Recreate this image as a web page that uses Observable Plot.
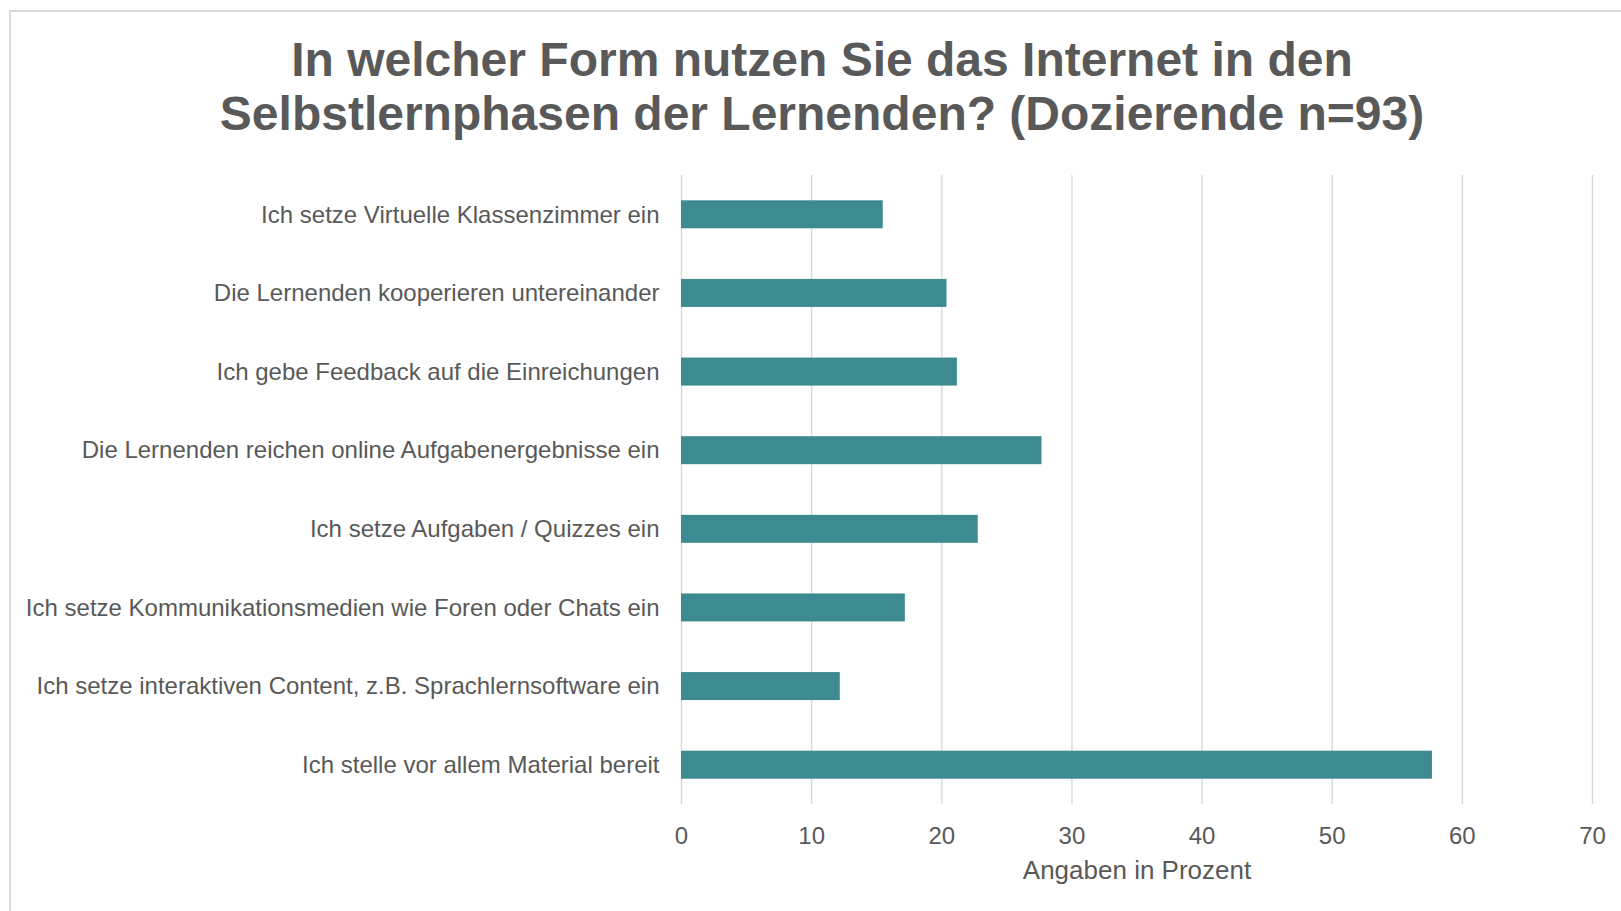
<!DOCTYPE html>
<html><head><meta charset="utf-8">
<script src="https://cdn.jsdelivr.net/npm/d3@7"></script>
<script src="https://cdn.jsdelivr.net/npm/@observablehq/plot@0.6"></script>
<style>
body{margin:0;background:#fff;font-family:Arial,"Liberation Sans",Helvetica,sans-serif;overflow:hidden;width:1621px;height:911px;}
#frame{position:absolute;left:9px;top:10px;width:1700px;height:1000px;border:2px solid #dadada;box-sizing:border-box;}
#title{position:absolute;left:0;width:1644px;top:33px;text-align:center;font-weight:bold;font-size:48px;line-height:54px;color:#595959;font-family:Arial,"Liberation Sans",Helvetica,sans-serif;}
#chart{position:absolute;left:0;top:0;}
</style></head><body>
<div id="frame"></div>
<div id="chart"></div>
<div id="title">In welcher Form nutzen Sie das Internet in den<br>Selbstlernphasen der Lernenden? (Dozierende n=93)</div>
<script>
const categories = [
  "Ich setze Virtuelle Klassenzimmer ein",
  "Die Lernenden kooperieren untereinander",
  "Ich gebe Feedback auf die Einreichungen",
  "Die Lernenden reichen online Aufgabenergebnisse ein",
  "Ich setze Aufgaben / Quizzes ein",
  "Ich setze Kommunikationsmedien wie Foren oder Chats ein",
  "Ich setze interaktiven Content, z.B. Sprachlernsoftware ein",
  "Ich stelle vor allem Material bereit"
];
const values = [15.5, 20.4, 21.2, 27.7, 22.8, 17.2, 12.2, 57.7];
const xTicks = [0, 10, 20, 30, 40, 50, 60, 70];
const xLabel = "Angaben in Prozent";

const data = categories.map((c, i) => ({category: c, value: values[i]}));
const labelColor = "#595959";
const font = "Arial, 'Liberation Sans', Helvetica, sans-serif";
const chart = Plot.plot({
  width: 1621, height: 911,
  marginTop: 175, marginBottom: 107, marginLeft: 681, marginRight: 29,
  style: {background: "transparent", color: labelColor, fontFamily: font, fontSize: "24px"},
  x: {domain: [0, 70], ticks: xTicks},
  y: {domain: categories, paddingInner: 0.644, paddingOuter: 0.322, round: false},
  marks: [
    Plot.gridX({ticks: xTicks, stroke: "#d9d9d9", strokeOpacity: 1, strokeWidth: 1.4}),
    Plot.barX(data, {x: "value", y: "category", fill: "#3d8b91"}),
    Plot.axisX({ticks: xTicks, tickSize: 0, tickPadding: 22, label: null, fontSize: 24, fill: labelColor, fontFamily: font}),
    Plot.axisY({tickSize: 0, tickPadding: 22, label: null, fontSize: 24, fill: labelColor, fontFamily: font}),
    Plot.text([xLabel], {text: d => d, frameAnchor: "bottom", lineAnchor: "middle", dy: 66, fontSize: 26, fill: labelColor, fontFamily: font})
  ]
});
document.getElementById("chart").appendChild(chart);
</script>
</body></html>
